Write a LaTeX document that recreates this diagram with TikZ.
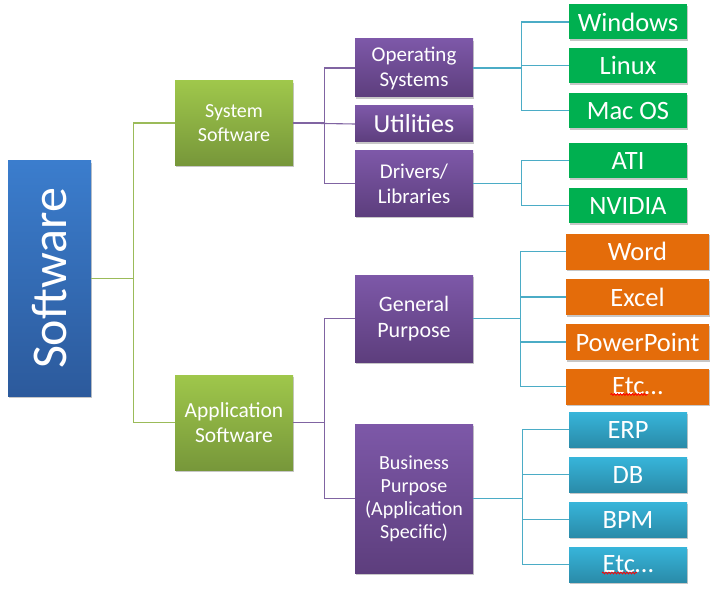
\documentclass[tikz,border=0pt]{standalone}
\usepackage{fontspec}
\setmainfont{Carlito}
\usetikzlibrary{shadows,decorations.pathmorphing}

\definecolor{softtop}{HTML}{3B7DCD}
\definecolor{softbot}{HTML}{2C5A9C}
\definecolor{lvonetop}{HTML}{9FC74B}
\definecolor{lvonebot}{HTML}{77973A}
\definecolor{purtop}{HTML}{7D58A8}
\definecolor{purbot}{HTML}{5D3E7D}
\definecolor{osgreen}{HTML}{00B050}
\definecolor{apporange}{HTML}{E46C0A}
\definecolor{bizcyantop}{HTML}{37B5DA}
\definecolor{bizcyanbot}{HTML}{2A8BA9}
\definecolor{greenline}{HTML}{9BBB59}
\definecolor{purline}{HTML}{8064A2}
\definecolor{blueline}{HTML}{4BACC6}

\tikzset{
  box/.style={text=white, align=center, inner sep=0pt,
    drop shadow={shadow xshift=1pt, shadow yshift=-1.6pt, opacity=.22, fill=black}},
  rootbox/.style={box, top color=softtop, bottom color=softbot,
    minimum width=83pt, minimum height=235pt, font=\fontsize{50}{60}\selectfont},
  lvone/.style={box, top color=lvonetop, bottom color=lvonebot, minimum width=118pt},
  lvtwo/.style={box, top color=purtop, bottom color=purbot, minimum width=118pt},
  osleaf/.style={box, fill=osgreen, minimum width=118pt, minimum height=35pt,
    font=\fontsize{26.5}{30}\selectfont},
  genleaf/.style={box, fill=apporange, minimum width=143pt, minimum height=36pt,
    font=\fontsize{26.5}{30}\selectfont},
  bizleaf/.style={box, top color=bizcyantop, bottom color=bizcyanbot,
    minimum width=118pt, minimum height=35pt, font=\fontsize{26.5}{30}\selectfont},
  link/.style={line width=1.1pt},
  spellwave/.style={red, line width=.8pt, decorate,
    decoration={snake, amplitude=.9pt, segment length=3pt}}
}

\begin{document}
\begin{tikzpicture}[x=1pt, y=-1pt]
  \useasboundingbox (0,0) rectangle (727,596);

  % root
  \node[rootbox] (soft) at (49.5,278.5) {\rotatebox{90}{Software}};

  % first level
  \node[lvone, minimum height=84pt, font=\fontsize{20}{23.5}\selectfont]
    (sys) at (234,123) {System\\Software};
  \node[lvone, minimum height=95pt, font=\fontsize{21.5}{25}\selectfont]
    (app) at (234,422.5) {Application\\Software};

  % second level
  \node[lvtwo, minimum height=58pt, font=\fontsize{21}{25}\selectfont]
    (os) at (414,68) {Operating\\Systems};
  \node[lvtwo, minimum height=36pt, font=\fontsize{26}{30}\selectfont]
    (util) at (414,124) {Utilities};
  \node[lvtwo, minimum height=65pt, font=\fontsize{21}{25}\selectfont]
    (drv) at (414,183.5) {Drivers/\\Libraries};
  \node[lvtwo, minimum height=87pt, font=\fontsize{22}{26}\selectfont]
    (gp) at (414,318.5) {General\\Purpose};
  \node[lvtwo, minimum height=149pt, font=\fontsize{20}{23}\selectfont]
    (bp) at (414,498.5) {Business\\Purpose\\(Application\\Specific)};

  % leaves
  \node[osleaf] (win) at (628,22) {Windows};
  \node[osleaf] (linux) at (628,65.5) {Linux};
  \node[osleaf] (mac) at (628,110.5) {Mac OS};
  \node[osleaf] (ati) at (628,160.5) {ATI};
  \node[osleaf] (nvidia) at (628,205.5) {NVIDIA};

  \node[genleaf] (word) at (637.5,251.5) {Word};
  \node[genleaf] (excel) at (637.5,297) {Excel};
  \node[genleaf] (ppt) at (637.5,342) {PowerPoint};
  \node[genleaf] (etcgen) at (637.5,386.5) {Etc\dots};

  \node[bizleaf] (erp) at (628,429.5) {ERP};
  \node[bizleaf] (db) at (628,474.5) {DB};
  \node[bizleaf] (bpm) at (628,519.5) {BPM};
  \node[bizleaf] (etcbiz) at (628,564.5) {Etc\dots};

  % spell check marks
  \draw[spellwave] ([xshift=-27pt,yshift=-8pt]etcgen.center) -- ++(37,0);
  \draw[spellwave] ([xshift=-26pt,yshift=-8.5pt]etcbiz.center) -- ++(35,0);

  % connectors
  \begin{scope}[link, greenline]
    \draw (soft.east) -- ++(42,0) |- (sys.west);
    \draw (soft.east) -- ++(42,0) |- (app.west);
  \end{scope}
  \begin{scope}[link, purline]
    \draw (sys.east) -- ++(31,0) |- (os.west);
    \draw (sys.east) -- (util.west);
    \draw (sys.east) -- ++(31,0) |- (drv.west);
    \draw (app.east) -- ++(31,0) |- (gp.west);
    \draw (app.east) -- ++(31,0) |- (bp.west);
  \end{scope}
  \begin{scope}[link, blueline]
    \draw (os.east) -- ++(48,0) |- (win.west);
    \draw (os.east) -- ++(48,0) |- (linux.west);
    \draw (os.east) -- ++(48,0) |- (mac.west);
    \draw (drv.east) -- ++(48,0) |- (ati.west);
    \draw (drv.east) -- ++(48,0) |- (nvidia.west);
    \draw (gp.east) -- ++(47,0) |- (word.west);
    \draw (gp.east) -- ++(47,0) |- (excel.west);
    \draw (gp.east) -- ++(47,0) |- (ppt.west);
    \draw (gp.east) -- ++(47,0) |- (etcgen.west);
    \draw (bp.east) -- ++(49,0) |- (erp.west);
    \draw (bp.east) -- ++(49,0) |- (db.west);
    \draw (bp.east) -- ++(49,0) |- (bpm.west);
    \draw (bp.east) -- ++(49,0) |- (etcbiz.west);
  \end{scope}
\end{tikzpicture}
\end{document}
